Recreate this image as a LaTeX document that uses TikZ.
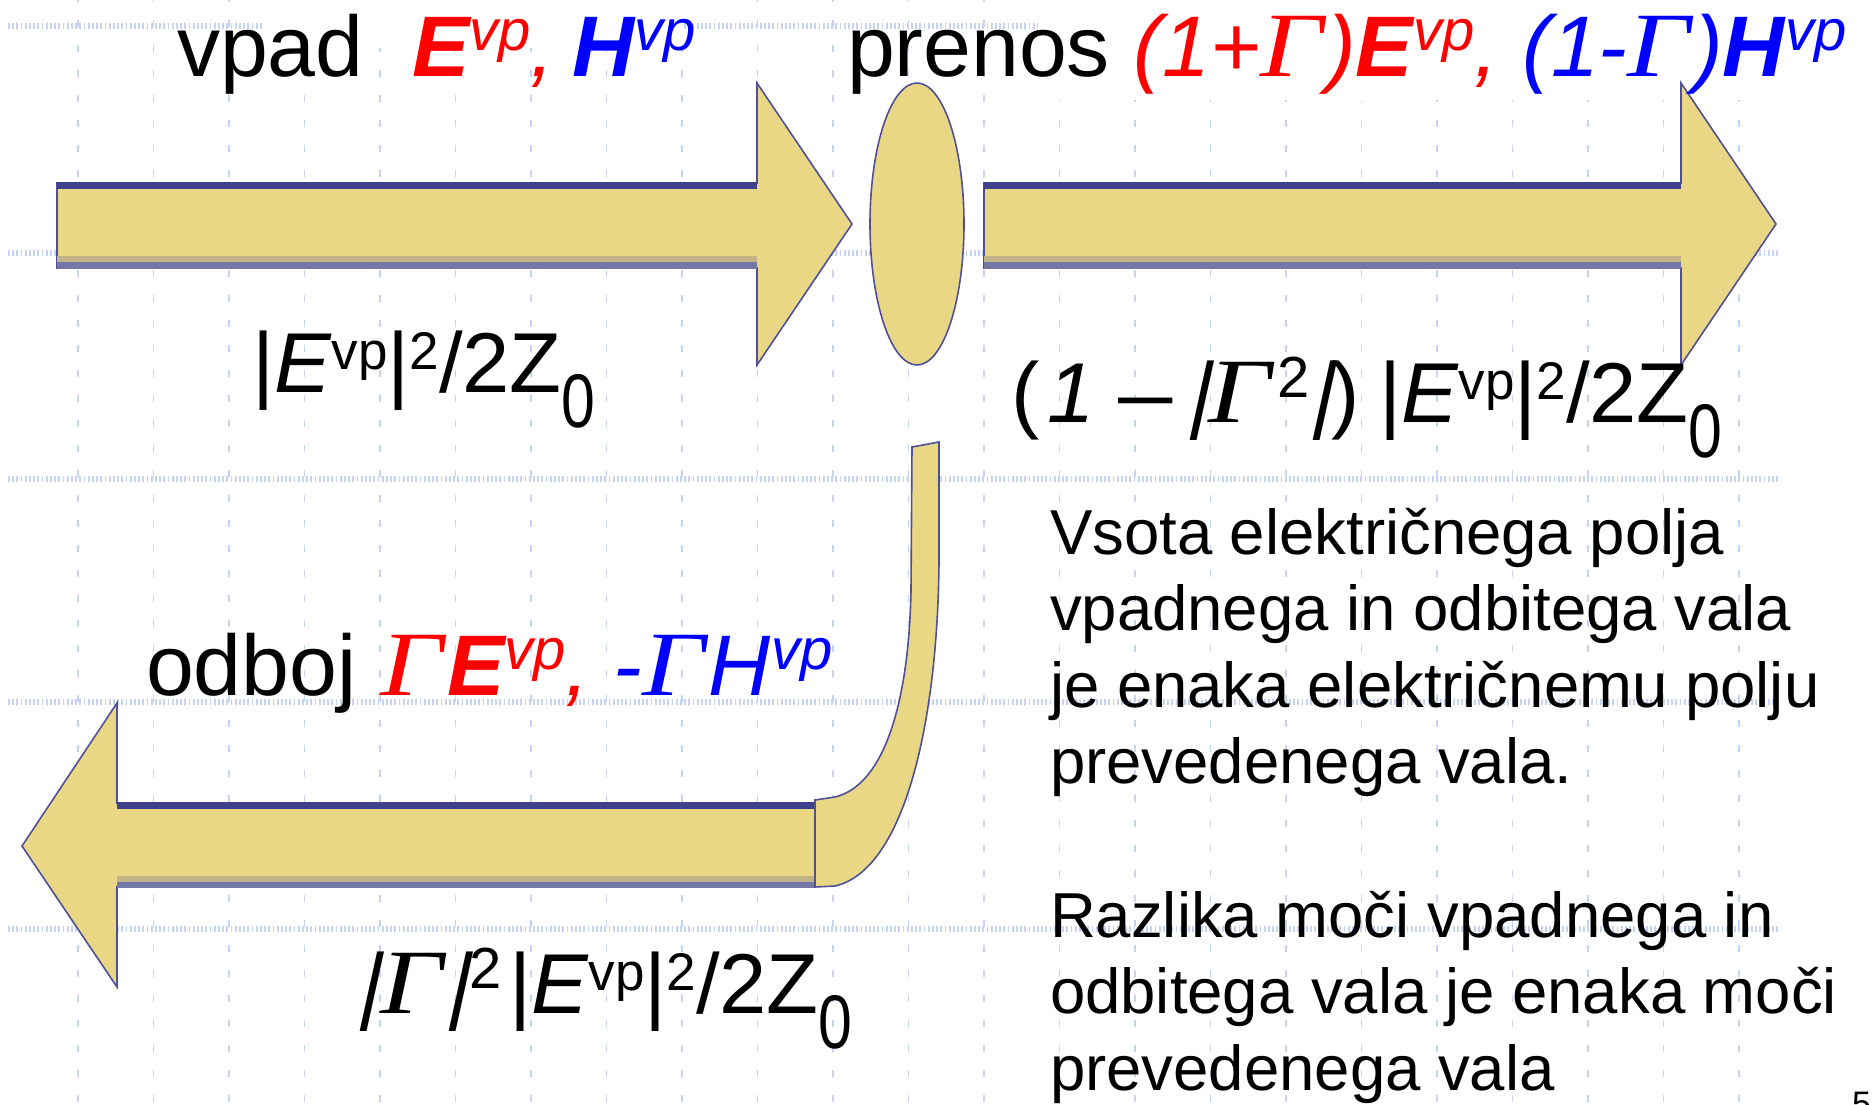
\documentclass[tikz,border=0pt]{standalone}
\usepackage{fontspec}
\usepackage{graphicx}
\setmainfont{Liberation Sans}
\newfontfamily\gfont{Liberation Serif}
\newfontfamily\slfont[FakeSlant=0.22]{Liberation Sans}
\definecolor{arrowfill}{HTML}{EAD785}
\definecolor{navyband}{HTML}{3F418A}
\definecolor{tanband}{HTML}{C2B287}
\definecolor{greyband}{HTML}{7478A8}
\definecolor{edgeblue}{HTML}{4E5196}
\definecolor{gridblue}{HTML}{C5D3F4}
\definecolor{myred}{HTML}{FF0000}
\definecolor{myblue}{HTML}{0000FF}
\newcommand\Lsz{\fontsize{86}{90}\selectfont}
\newcommand\Fsz{\fontsize{85}{90}\selectfont}
\newcommand\Bsz{\fontsize{63.5}{76}\selectfont}
\newcommand\lsup[1]{\raisebox{26pt}{\fontsize{58}{58}\selectfont #1}}
\newcommand\fsup[1]{\raisebox{23pt}{\fontsize{53}{53}\selectfont #1}}
\newcommand\fsupB[1]{\raisebox{25pt}{\fontsize{58}{58}\selectfont #1}}
\newcommand\fsub[1]{\raisebox{-35pt}{\scalebox{0.8}[1]{\fontsize{76}{76}\selectfont #1}}}
\newcommand\Gm{{\gfont\itshape\fontsize{92}{92}\selectfont\scalebox{1.2}[1]{Γ}}}
\newcommand\sbar{{\slfont |}}
\tikzset{
  gridv/.style={draw=gridblue, line width=1.8pt, dash pattern=on 7pt off 18pt},
  gridh/.style={draw=gridblue, line width=5.5pt, dash pattern=on 1.7pt off 2.5pt},
  arrowbody/.style={fill=arrowfill, draw=edgeblue, line width=1.6pt, line join=miter},
  lbl/.style={anchor=base west, inner sep=0pt, outer sep=0pt, font=\Lsz},
  body/.style={anchor=base west, inner sep=0pt, outer sep=0pt, font=\Bsz},
}
\begin{document}
\begin{tikzpicture}[x=1pt,y=-1pt]
\useasboundingbox (0,0) rectangle (1875,1104);
\fill[white] (0,0) rectangle (1875,1104);
% grid
\foreach \i in {0,...,22} {
  \draw[gridv] ({78+75.5*\i},-5) -- ({78+75.5*\i},1104);
}
\foreach \y in {26,253,479,702,929} {
  \draw[gridh] (8,\y) -- (1780,\y);
}
% white text boxes hiding the grid
\fill[white] (262,0) rectangle (683,48);
\fill[white] (1038,0) rectangle (1875,100);

% incident arrow
\path[arrowbody] (57,183) -- (757,183) -- (757,83) -- (852,224) -- (757,365) -- (757,268) -- (57,268) -- cycle;
\fill[navyband] (57,182) rectangle (757,189);
\fill[tanband] (57,256) rectangle (757,262);
\fill[greyband] (57,262) rectangle (757,269);

% boundary ellipse
\draw[arrowbody] (917,224) ellipse [x radius=47pt, y radius=141pt];

% transmitted arrow
\path[arrowbody] (984,183) -- (1681,183) -- (1681,83) -- (1776,224) -- (1681,365) -- (1681,268) -- (984,268) -- cycle;
\fill[navyband] (984,182) rectangle (1681,189);
\fill[tanband] (984,256) rectangle (1681,262);
\fill[greyband] (984,262) rectangle (1681,269);

% reflected arrow
\path[arrowbody] (815,803) -- (117,803) -- (117,703) -- (22,846) -- (117,987) -- (117,887) -- (815,887) -- cycle;
\fill[navyband] (117,802) rectangle (815,809);
\fill[tanband] (117,876) rectangle (815,882);
\fill[greyband] (117,882) rectangle (815,888);
\path[arrowbody] (815,887) -- (835,886) .. controls (905,870) and (938,720) .. (939,560) -- (939,442) -- (912,447) -- (911,590) .. controls (909,700) and (885,785) .. (835,797) -- (815,800) -- cycle;

% labels
\node[lbl] (vpad) at (177,76) {vpad};
\node[lbl] (incEH) at (412,76) {\itshape{\color{myred}\textbf{E}\lsup{vp},}\hspace{18pt}{\color{myblue}\textbf{H}\lsup{vp}}};
\node[lbl] (prenos) at (847,76) {prenos {\itshape\color{myred}(1+\Gm\hspace{4pt})\textbf{E}\lsup{vp},} {\itshape\color{myblue}(1-\Gm\hspace{4pt})\textbf{H}\lsup{vp}}};
\node[lbl] (pinc) at (252,392) {\Fsz|\textit{E}\fsup{vp}|\fsup{2}/2Z\fsub{0}};
\node[lbl] (ptrA) at (1011,422) {\Fsz(\hspace{8pt}\textit{1}\hspace{0pt} \scalebox{1.15}[1]{–}\hspace{-10pt} \sbar\Gm\hspace{6pt}\fsupB{2}\sbar)};
\node[lbl] (ptrB) at (1379,422) {\Fsz|\textit{E}\fsup{vp}|\fsup{2}/2Z\fsub{0}};
\node[lbl] (odboj) at (146,695) {odboj {\color{myred}\Gm\hspace{4pt}\textit{\textbf{E}\lsup{vp},}} {\itshape\color{myblue}-\Gm\hspace{4pt}H\lsup{vp}}};
\node[lbl] (prefA) at (356,1013) {\Fsz\sbar\hspace{2pt}\Gm\hspace{3pt}\sbar\hspace{2pt}\fsupB{2}};
\node[lbl] (prefB) at (509,1013) {\Fsz|\textit{E}\fsup{vp}|\fsup{2}/2Z\fsub{0}};

% explanation
\node[body] (s1) at (1050,554) {Vsota električnega polja};
\node[body] (s2) at (1050,630) {vpadnega in odbitega vala};
\node[body] (s3) at (1050,707) {je enaka električnemu polju};
\node[body] (s4) at (1050,783) {prevedenega vala.};
\node[body] (r1) at (1050,937) {Razlika moči vpadnega in};
\node[body] (r2) at (1050,1013) {odbitega vala je enaka moči};
\node[body] (r3) at (1050,1090) {prevedenega vala};
\node[anchor=north west, inner sep=0pt, font=\fontsize{34}{34}\selectfont] (pnum) at (1852,1092) {5};
\end{tikzpicture}
\end{document}
